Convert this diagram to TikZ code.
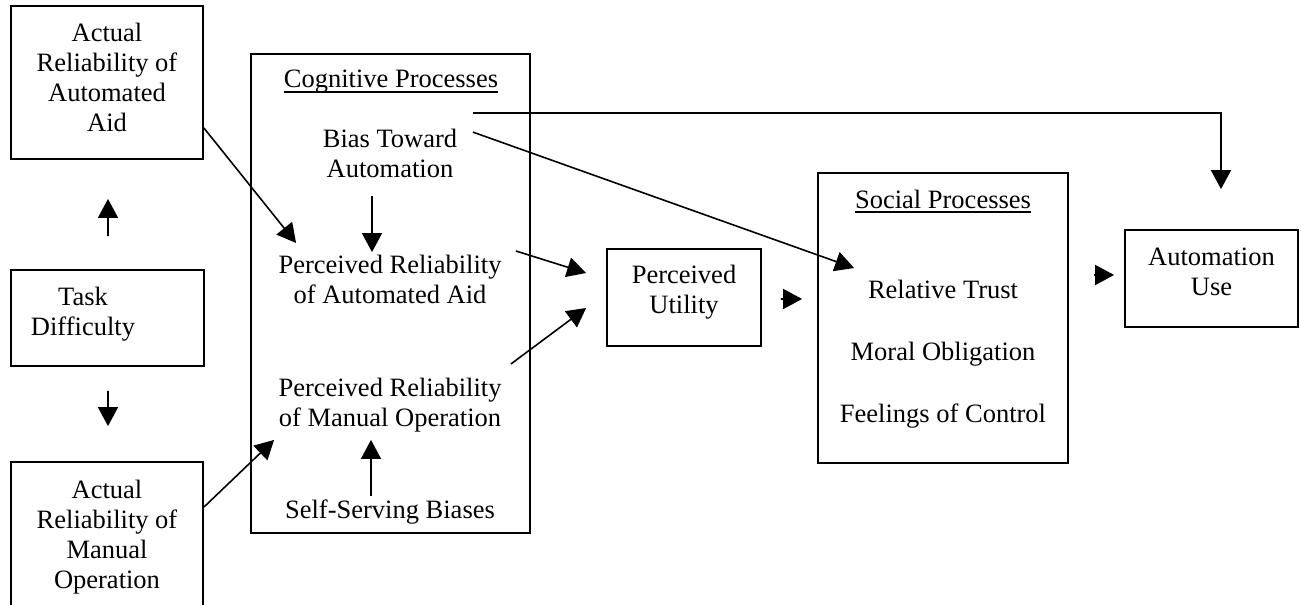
\documentclass[tikz,border=0pt]{standalone}
\usepackage{fontspec}
\setmainfont{Liberation Serif}
\usetikzlibrary{arrows.meta,calc}
\newcommand{\mlines}[1]{\begin{tabular}[t]{@{}c@{}}#1\end{tabular}}
\begin{document}
\begin{tikzpicture}[x=1bp,y=-1bp,
  font=\fontsize{26.5bp}{30bp}\selectfont,
  box/.style={draw, line width=1.8bp, rectangle, inner sep=0pt},
  txt/.style={inner sep=0pt, anchor=base},
  arr/.style={line width=1.6bp, -{Triangle[length=19bp,width=20bp]}},
  uline/.style={line width=1.4bp}]
\useasboundingbox (0,0) rectangle (1301,605);
\fill[white] (0,0) rectangle (1301,605);
\clip (0,0) rectangle (1301,605);
% boxes
\node[box, minimum width=192bp, minimum height=153bp] (a) at (107,82.5) {};
\node[box, minimum width=193bp, minimum height=96bp] (td) at (107.5,318) {};
\node[box, minimum width=192bp, minimum height=238bp] (b) at (107,581) {};
\node[box, minimum width=279bp, minimum height=479bp] (cog) at (390.5,293.5) {};
\node[box, minimum width=154bp, minimum height=97bp] (pu) at (684,297.5) {};
\node[box, minimum width=250bp, minimum height=290bp] (soc) at (943,318) {};
\node[box, minimum width=173bp, minimum height=97bp] (au) at (1211.5,278.5) {};
% texts
\node[txt] (at) at (107,42) {\mlines{Actual\\Reliability of\\Automated\\Aid}};
\node[txt] (tdt) at (83,305) {\mlines{Task\\Difficulty}};
\node[txt] (bt) at (107,498) {\mlines{Actual\\Reliability of\\Manual\\Operation}};
\node[txt] (cogt) at (391,88) {Cognitive Processes};
\draw[uline] ($(cogt.base west)+(0,4)$) -- ($(cogt.base east)+(0,4)$);
\node[txt] (bias) at (390,148) {\mlines{Bias Toward\\Automation}};
\node[txt] (pra) at (390,273) {\mlines{Perceived Reliability\\of Automated Aid}};
\node[txt] (prm) at (390,396) {\mlines{Perceived Reliability\\of Manual Operation}};
\node[txt] (ssb) at (390,518) {Self-Serving Biases};
\node[txt] (put) at (684,283) {\mlines{Perceived\\Utility}};
\node[txt] (soct) at (943,208) {Social Processes};
\draw[uline] ($(soct.base west)+(0,4)$) -- ($(soct.base east)+(0,4)$);
\node[txt] (rt) at (943,298) {Relative Trust};
\node[txt] (mo) at (943,360) {Moral Obligation};
\node[txt] (fc) at (943,422) {Feelings of Control};
\node[txt] (aut) at (1211.5,265) {\mlines{Automation\\Use}};
% connectors
\draw[arr] ($(a.east)+(0,45.5)$) -- ($(cog.west)+(46,-50.5)$);
\draw[arr] ($(td.north)+(0.5,-33)$) -- ($(a.south)+(1,39)$);
\draw[arr] ($(td.south)+(0.5,24)$) -- ($(b.north)+(1,-35)$);
\draw[arr] ($(b.north east)+(0,46)$) -- ($(cog.south west)+(24,-94)$);
\draw[arr] ($(cog.north)+(-18.5,143)$) -- ($(cog.north)+(-18.5,199)$);
\draw[arr] ($(cog.south)+(-19.5,-38)$) -- ($(cog.south)+(-19.5,-94)$);
\draw[arr] ($(cog.east)+(-15,-42.5)$) -- ($(pu.west)+(-20,-24.5)$);
\draw[arr] ($(cog.east)+(-20,70.5)$) -- ($(pu.west)+(-20,10.5)$);
\draw[arr] ($(cog.north east)+(-58,60)$) -| ($(au.north)+(9.5,-40)$);
\draw[arr] ($(cog.north east)+(-58,79)$) -- ($(soc.west)+(37,-50)$);
\draw[arr] ($(pu.east)+(19,1.5)$) -- ($(soc.west)+(-15,-19)$);
\draw[arr] ($(soc.east)+(25,-43)$) -- ($(au.west)+(-10,-3.5)$);
\end{tikzpicture}
\end{document}
